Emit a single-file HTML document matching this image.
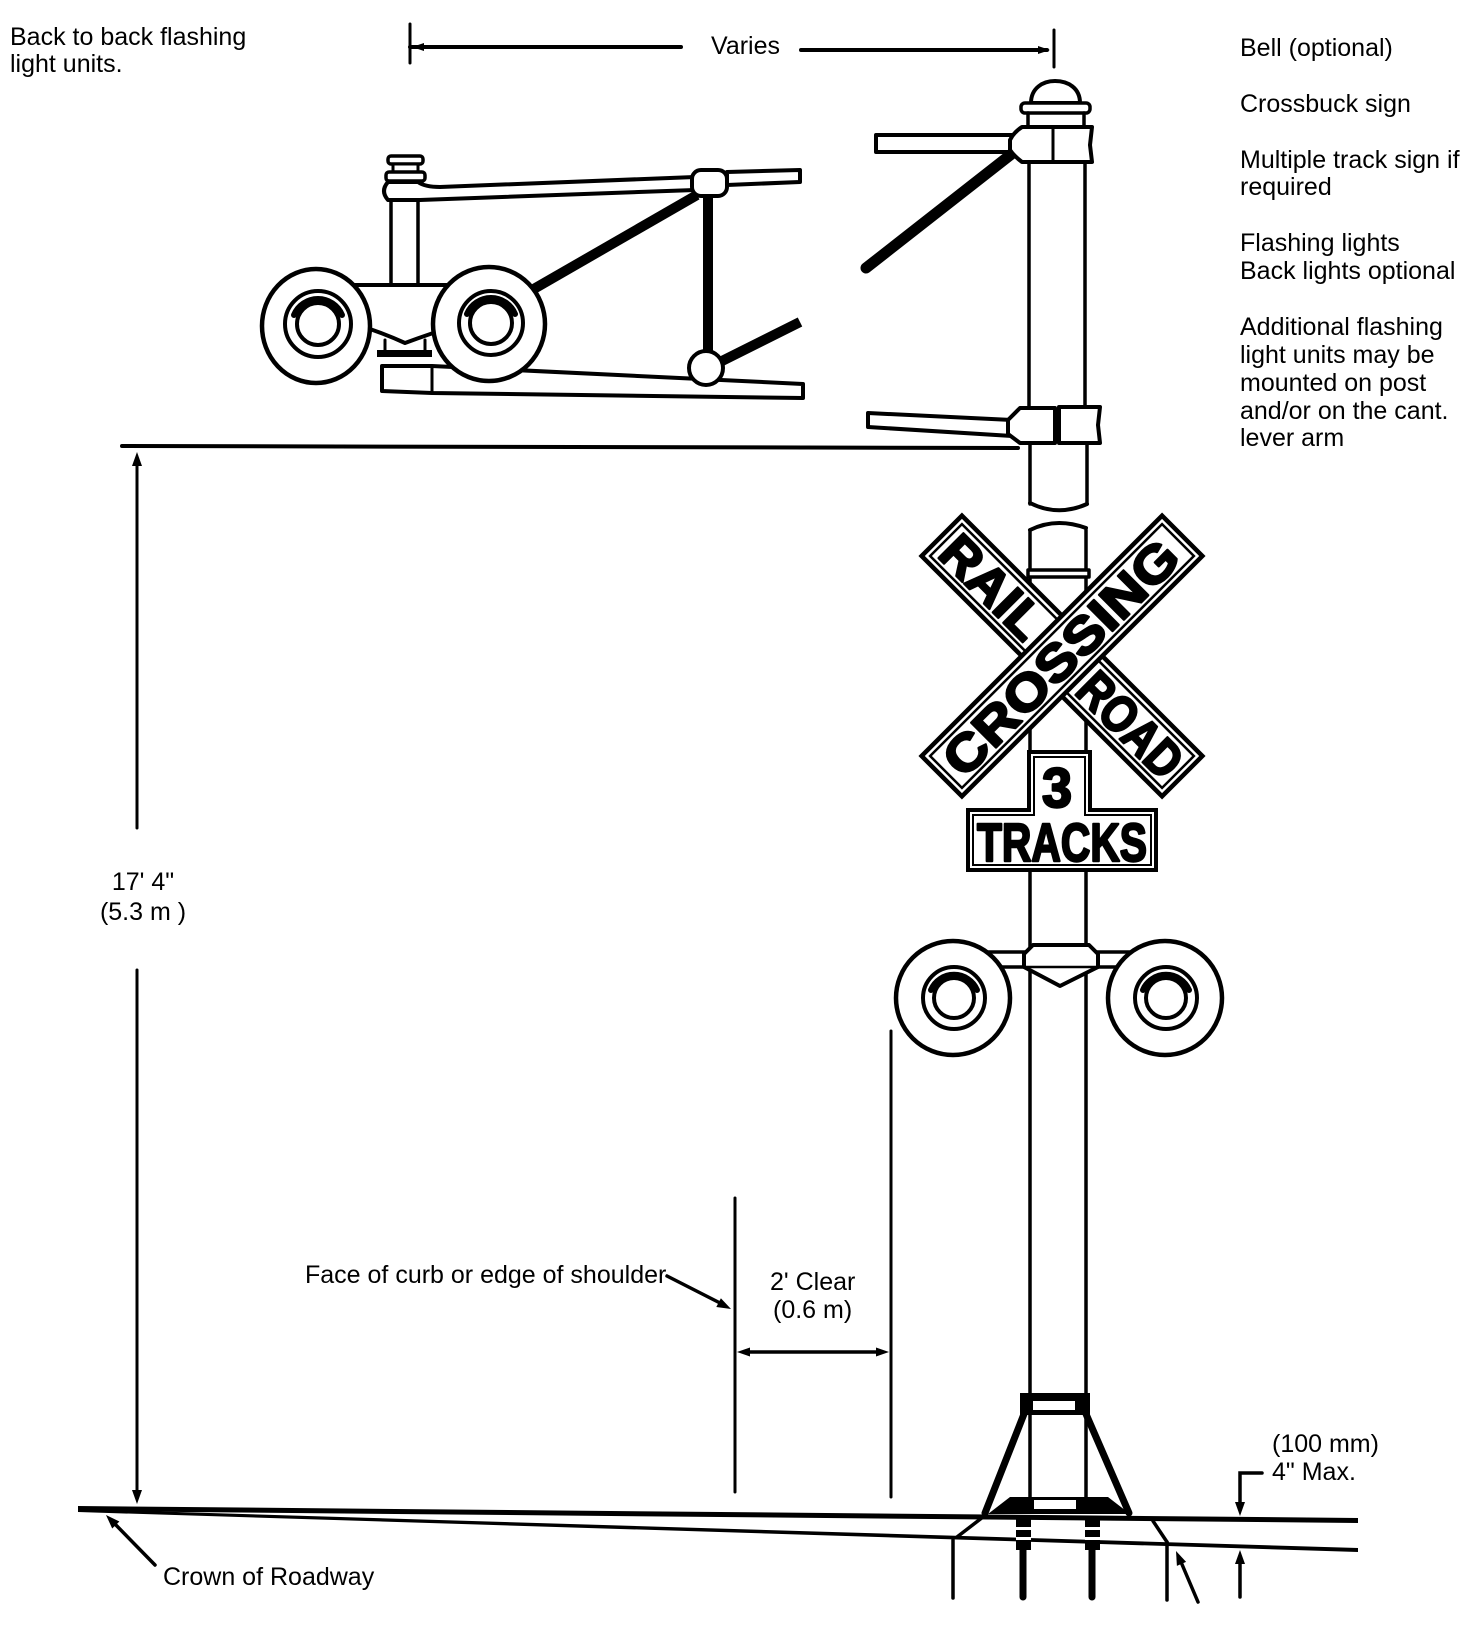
<!DOCTYPE html>
<html><head><meta charset="utf-8">
<style>
html,body{margin:0;padding:0;background:#fff;}
svg{display:block;}
text{font-family:"Liberation Sans",Arial,sans-serif;fill:#000;}
.lbl{font-size:25px;}
.sign{font-weight:bold;stroke:#000;stroke-width:2.4;stroke-linejoin:round;}
</style></head><body>
<svg width="1475" height="1634" viewBox="0 0 1475 1634" xmlns="http://www.w3.org/2000/svg">
<rect width="1475" height="1634" fill="#fff"/>

<!-- Labels -->
<text class="lbl" x="10" y="45">Back to back flashing</text>
<text class="lbl" x="10" y="72">light units.</text>
<text class="lbl" x="711" y="54">Varies</text>

<text class="lbl" x="1240" y="56">Bell (optional)</text>
<text class="lbl" x="1240" y="112">Crossbuck sign</text>
<text class="lbl" x="1240" y="168">Multiple track sign if</text>
<text class="lbl" x="1240" y="195">required</text>
<text class="lbl" x="1240" y="251">Flashing lights</text>
<text class="lbl" x="1240" y="279">Back lights optional</text>
<text class="lbl" x="1240" y="335">Additional flashing</text>
<text class="lbl" x="1240" y="363">light units may be</text>
<text class="lbl" x="1240" y="391">mounted on post</text>
<text class="lbl" x="1240" y="419">and/or on the cant.</text>
<text class="lbl" x="1240" y="446">lever arm</text>

<text class="lbl" x="143" y="890" text-anchor="middle">17' 4"</text>
<text class="lbl" x="143" y="920" text-anchor="middle">(5.3 m )</text>

<text class="lbl" x="305" y="1283">Face of curb or edge of shoulder</text>
<text class="lbl" x="770" y="1290">2' Clear</text>
<text class="lbl" x="773" y="1318">(0.6 m)</text>

<text class="lbl" x="1272" y="1452">(100 mm)</text>
<text class="lbl" x="1272" y="1480">4" Max.</text>
<text class="lbl" x="163" y="1585">Crown of Roadway</text>

<g fill="none" stroke="#000" stroke-linecap="round" stroke-linejoin="round">

<!-- Varies dimension -->
<line x1="410" y1="24" x2="410" y2="63" stroke-width="3"/>
<line x1="410" y1="47" x2="681" y2="47" stroke-width="4"/>
<line x1="801" y1="50" x2="1047" y2="50" stroke-width="4"/>
<line x1="1054" y1="30" x2="1054" y2="67" stroke-width="3"/>

<!-- long horizontal reference line -->
<line x1="122" y1="446" x2="1018" y2="448" stroke-width="4"/>

<!-- 17'4" vertical dimension -->
<line x1="137" y1="460" x2="137" y2="828" stroke-width="3"/>
<line x1="137" y1="970" x2="137" y2="1496" stroke-width="3"/>

<!-- clearance lines -->
<line x1="735" y1="1198" x2="735" y2="1492" stroke-width="3"/>
<line x1="891" y1="1031" x2="891" y2="1497" stroke-width="3"/>
<line x1="745" y1="1352" x2="880" y2="1352" stroke-width="3.5"/>
<line x1="667" y1="1276" x2="722" y2="1304" stroke-width="3.5"/>

<!-- crown arrow -->
<line x1="155" y1="1565" x2="113" y2="1522" stroke-width="3.5"/>

<!-- ========== LEFT back-to-back unit ========== -->
<line x1="391" y1="198" x2="391" y2="286" stroke-width="3.5"/>
<line x1="418" y1="198" x2="418" y2="286" stroke-width="3.5"/>
<rect x="388" y="156" width="35" height="8" rx="3" fill="#fff" stroke-width="3.5"/>
<rect x="393" y="164" width="25" height="8" fill="#fff" stroke-width="3"/>
<rect x="386" y="172" width="39" height="9" rx="3" fill="#fff" stroke-width="3.5"/>
<path d="M388 182 L418 182 Q425 187 440 187 L695 177 L695 190 L420 200 L388 200 Q380 191 388 182 Z" fill="#fff" stroke-width="4"/>
<path d="M727 172 L800 170 L800 182 L727 185 Z" fill="#fff" stroke-width="4"/>
<line x1="532" y1="290" x2="697" y2="195" stroke-width="10" stroke-linecap="butt"/>
<line x1="708" y1="196" x2="708" y2="352" stroke-width="10" stroke-linecap="butt"/>
<line x1="720" y1="362" x2="800" y2="322" stroke-width="10" stroke-linecap="butt"/>
<rect x="692" y="170" width="35" height="26" rx="9" fill="#fff" stroke-width="4"/>
<path d="M352 285 H458 V325 Q432 333 405 343 Q383 333 358 325 Z" fill="#fff" stroke-width="4"/>
<line x1="385" y1="340" x2="385" y2="352" stroke-width="3"/>
<line x1="425" y1="340" x2="425" y2="352" stroke-width="3"/>
<rect x="377" y="350" width="55" height="7" fill="#000" stroke="none"/>
<path d="M382 366 L432 366 L803 384 L803 398 L432 393 L382 391 Z" fill="#fff" stroke-width="4"/>
<line x1="432" y1="366" x2="432" y2="393" stroke-width="3"/>
<circle cx="706" cy="368" r="17" fill="#fff" stroke-width="4"/>
<ellipse cx="316" cy="326" rx="54" ry="57" fill="#fff" stroke-width="4.5"/>
<circle cx="318" cy="324" r="33" stroke-width="4"/>
<circle cx="318" cy="324" r="21" stroke-width="4"/>
<path d="M294 315 A26 26 0 0 1 342 315" stroke-width="6"/>
<ellipse cx="489" cy="324" rx="56" ry="57" fill="#fff" stroke-width="4.5"/>
<circle cx="491" cy="323" r="32" stroke-width="4"/>
<circle cx="491" cy="323" r="21" stroke-width="4"/>
<path d="M467 314 A26 26 0 0 1 515 314" stroke-width="6"/>

<!-- ========== POLE ========== -->
<line x1="1029" y1="162" x2="1029" y2="407" stroke-width="3.5"/>
<line x1="1085" y1="162" x2="1085" y2="407" stroke-width="3.5"/>
<path d="M1031 103 C1031 88 1043 81 1055 81 C1068 81 1080 88 1080 103 Z" fill="#fff" stroke-width="4"/>
<rect x="1021" y="103" width="69" height="10" rx="4" fill="#fff" stroke-width="3.5"/>
<line x1="1028" y1="113" x2="1028" y2="127" stroke-width="3.5"/>
<line x1="1084" y1="113" x2="1084" y2="127" stroke-width="3.5"/>
<rect x="876" y="135" width="138" height="17" fill="#fff" stroke-width="4"/>
<line x1="1018" y1="149" x2="866" y2="268" stroke-width="11"/>
<path d="M1022 127 L1092 127 L1090 145 L1092 162 L1022 162 Q1014 156 1010 150 L1010 140 Q1014 132 1022 127 Z" fill="#fff" stroke-width="4"/>
<line x1="1053" y1="127" x2="1053" y2="162" stroke-width="3"/>
<path d="M868 413 L1012 420 L1012 436 L868 427 Z" fill="#fff" stroke-width="4"/>
<path d="M1008 420 L1020 408 L1055 408 L1055 443 L1020 443 L1008 434 Z" fill="#fff" stroke-width="4"/>
<path d="M1059 407 L1100 407 L1098 425 L1100 443 L1059 443 Z" fill="#fff" stroke-width="4"/>
<line x1="1030" y1="443" x2="1030" y2="504" stroke-width="3.5"/>
<line x1="1087" y1="443" x2="1087" y2="504" stroke-width="3.5"/>
<path d="M1030 503 Q1058 517 1087 504" stroke-width="4"/>

<line x1="1030" y1="530" x2="1030" y2="1497" stroke-width="3.5"/>
<line x1="1086" y1="530" x2="1086" y2="1497" stroke-width="3.5"/>
<path d="M1030 530 Q1056 517 1086 528" stroke-width="4"/>
<rect x="1028" y="570" width="61" height="7" fill="#fff" stroke-width="3.5"/>
</g>

<!-- ========== CROSSBUCK ========== -->
<g transform="translate(1062,656)">
  <g transform="rotate(45)">
    <rect x="-170" y="-28.5" width="340" height="57" fill="#fff" stroke="#000" stroke-width="4.5"/>
    <rect x="-164" y="-22.5" width="328" height="45" fill="none" stroke="#000" stroke-width="2.5"/>
    <text class="sign" x="-160" y="18" font-size="51" textLength="124" lengthAdjust="spacingAndGlyphs">RAIL</text>
    <text class="sign" x="34" y="18" font-size="51" textLength="126" lengthAdjust="spacingAndGlyphs">ROAD</text>
  </g>
  <g transform="rotate(-45)">
    <rect x="-170" y="-28.5" width="340" height="57" fill="#fff" stroke="#000" stroke-width="4.5"/>
    <rect x="-164" y="-22.5" width="328" height="45" fill="none" stroke="#000" stroke-width="2.5"/>
    <text class="sign" x="-157" y="18" font-size="51" textLength="310" lengthAdjust="spacingAndGlyphs">CROSSING</text>
  </g>
</g>

<!-- 3 TRACKS sign -->
<path d="M1029 752 H1090 V810 H1156 V870 H968 V810 H1029 Z" fill="#fff" stroke="#000" stroke-width="4"/>
<path d="M1034 757 H1085 V815 H1151 V865 H973 V815 H1034 Z" fill="none" stroke="#000" stroke-width="2"/>
<text class="sign" x="1057" y="807" font-size="56" text-anchor="middle" textLength="30" lengthAdjust="spacingAndGlyphs">3</text>
<text class="sign" x="977" y="861" font-size="54" textLength="170" lengthAdjust="spacingAndGlyphs">TRACKS</text>

<g fill="none" stroke="#000" stroke-linecap="round" stroke-linejoin="round">
<rect x="985" y="952" width="148" height="15" fill="#fff" stroke-width="3.5"/>
<path d="M1033 945 L1089 945 L1098 954 L1098 967 L1060 986 L1024 967 L1024 954 Z" fill="#fff" stroke-width="4"/>
<line x1="1024" y1="967" x2="1098" y2="967" stroke-width="2.5"/>
<circle cx="953" cy="998" r="57" fill="#fff" stroke-width="4.5"/>
<circle cx="954" cy="998" r="31" stroke-width="4"/>
<circle cx="954" cy="998" r="20" stroke-width="4"/>
<path d="M931 990 A25 25 0 0 1 977 990" stroke-width="6"/>
<circle cx="1165" cy="998" r="57" fill="#fff" stroke-width="4.5"/>
<circle cx="1166" cy="998" r="31" stroke-width="4"/>
<circle cx="1166" cy="998" r="20" stroke-width="4"/>
<path d="M1143 990 A25 25 0 0 1 1189 990" stroke-width="6"/>

<line x1="1024" y1="1414" x2="985" y2="1513" stroke-width="7"/>
<line x1="1086" y1="1414" x2="1129" y2="1513" stroke-width="7"/>
</g>
<rect x="1020" y="1393" width="70" height="22" fill="#000"/>
<rect x="1033" y="1401" width="42" height="9" fill="#fff"/>
<polygon points="988,1514 1010,1497 1108,1497 1130,1514" fill="#000"/>
<rect x="1034" y="1500" width="42" height="9" fill="#fff"/>

<polygon points="78,1506 1358,1518 1358,1523 78,1511" fill="#000"/>
<polygon points="78,1509 1358,1548 1358,1552 78,1512" fill="#000"/>

<rect x="1016" y="1518" width="15" height="32" fill="#000"/>
<rect x="1016" y="1527" width="15" height="3" fill="#fff"/>
<rect x="1016" y="1537" width="15" height="3" fill="#fff"/>
<rect x="1085" y="1518" width="15" height="32" fill="#000"/>
<rect x="1085" y="1527" width="15" height="3" fill="#fff"/>
<rect x="1085" y="1537" width="15" height="3" fill="#fff"/>
<g fill="none" stroke="#000" stroke-linecap="round">
<line x1="1023" y1="1550" x2="1023" y2="1597" stroke-width="7"/>
<line x1="1092" y1="1550" x2="1092" y2="1597" stroke-width="7"/>
<line x1="983" y1="1517" x2="957" y2="1537" stroke-width="3.5"/>
<line x1="1153" y1="1521" x2="1167" y2="1542" stroke-width="3.5"/>
<line x1="953" y1="1540" x2="953" y2="1598" stroke-width="3.5"/>
<line x1="1167" y1="1542" x2="1167" y2="1600" stroke-width="3.5"/>
<line x1="1198" y1="1602" x2="1181" y2="1562" stroke-width="3.5"/>
<path d="M1262 1473 H1240 V1505" stroke-width="3.5"/>
<line x1="1240" y1="1597" x2="1240" y2="1562" stroke-width="3.5"/>
</g>

<g fill="#000">
<polygon points="412,47 424,43 424,51"/>
<polygon points="1050,50 1038,46 1038,54"/>
<polygon points="137,452 132,466 142,466"/>
<polygon points="137,1504 132,1490 142,1490"/>
<polygon points="106,1515 119.4,1521.5 112.2,1528.5"/>
<polygon points="731,1309 716.3,1307 720.9,1298.2"/>
<polygon points="737,1352 750,1347.5 750,1356.5"/>
<polygon points="889,1352 876,1347.5 876,1356.5"/>
<polygon points="1240,1516 1235,1502 1245,1502"/>
<polygon points="1240,1550 1235,1564 1245,1564"/>
<polygon points="1176,1551 1186.1,1561.9 1176.9,1565.9"/>
</g>
</svg>
</body></html>
